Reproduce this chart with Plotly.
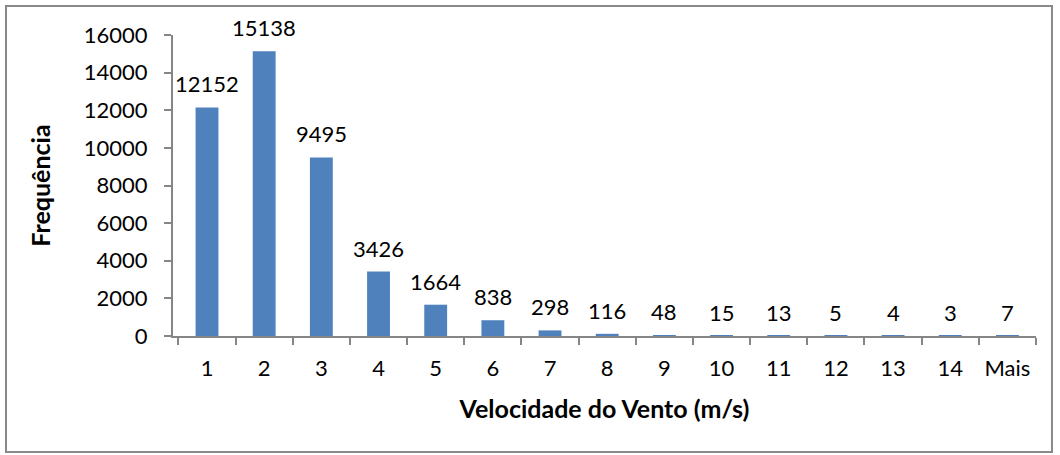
import plotly.graph_objects as go

categories = ["1", "2", "3", "4", "5", "6", "7", "8", "9", "10", "11", "12", "13", "14", "Mais"]
frequencies = [12152, 15138, 9495, 3426, 1664, 838, 298, 116, 48, 15, 13, 5, 4, 3, 7]

FONT = "Lato"
AXIS_COLOR = "#868686"

fig = go.Figure()
fig.add_trace(go.Bar(
    x=categories, y=frequencies,
    marker=dict(color="#4F81BD", line=dict(width=0)),
    hoverinfo="x+y",
))

for i, v in enumerate(frequencies):
    fig.add_annotation(x=i, y=v, text=str(v), showarrow=False,
                       yanchor="bottom", yshift=8,
                       font=dict(family=FONT, size=22, color="#000000"))

fig.update_layout(
    width=1060, height=455,
    margin=dict(l=173, r=24, t=35, b=119),
    paper_bgcolor="white", plot_bgcolor="white",
    bargap=0.6,
    showlegend=False,
    font=dict(family=FONT, size=22, color="#000000"),
    xaxis=dict(
        type="category",
        showline=True, linecolor=AXIS_COLOR, linewidth=2,
        ticks="outside", tickson="boundaries", ticklen=7, tickcolor=AXIS_COLOR, tickwidth=2,
        ticklabelstandoff=12,
        showgrid=False, zeroline=False,
        tickfont=dict(family=FONT, size=22),
        title=dict(text="<b>Velocidade do Vento (m/s)</b>", font=dict(family=FONT, size=25), standoff=20),
    ),
    yaxis=dict(
        range=[0, 16000], dtick=2000, tickformat="d",
        showline=True, linecolor=AXIS_COLOR, linewidth=2,
        ticks="outside", ticklen=7, tickcolor=AXIS_COLOR, tickwidth=2,
        ticklabelstandoff=12,
        showgrid=False, zeroline=False,
        tickfont=dict(family=FONT, size=22),
        title=dict(text="<b>Frequência</b>", font=dict(family=FONT, size=25), standoff=26),
    ),
)

fig.add_shape(type="rect", xref="paper", yref="paper",
              x0=-0.1935, x1=1.0185, y0=-0.385, y1=1.096,
              line=dict(color="#898989", width=2), fillcolor="rgba(0,0,0,0)", layer="below")

fig.write_html("out.html", config={"displayModeBar": False},
               post_script="document.body.style.margin='0px';")
